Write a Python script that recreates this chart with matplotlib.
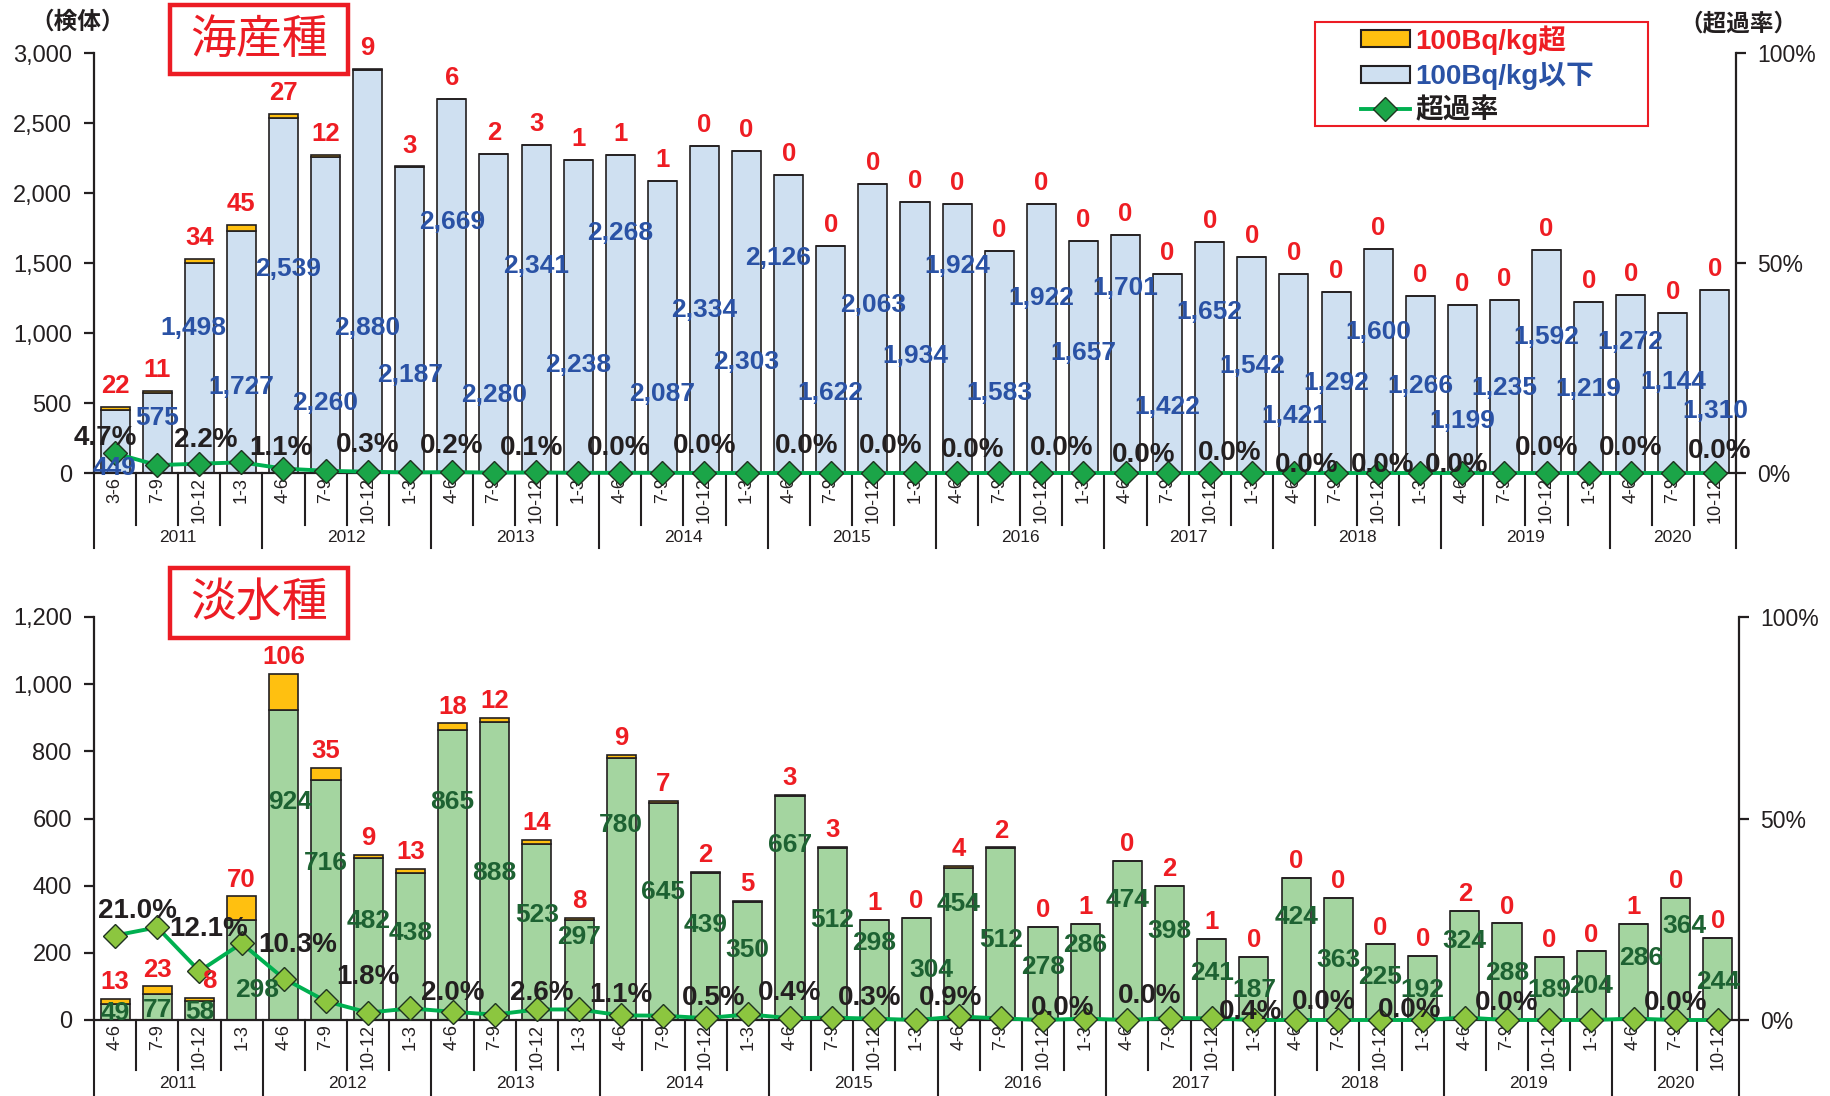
import matplotlib
matplotlib.use("Agg")
import matplotlib.pyplot as plt
from matplotlib.patches import Patch, Rectangle
from matplotlib.lines import Line2D
from matplotlib.ticker import FuncFormatter

plt.rcParams["font.family"] = ["Liberation Sans", "Noto Sans CJK JP"]

# ---- data -------------------------------------------------------------
years = [2011, 2012, 2013, 2014, 2015, 2016, 2017, 2018, 2019, 2020]
sea_quarters = ["3-6", "7-9", "10-12", "1-3"] + ["4-6", "7-9", "10-12", "1-3"] * 8 + ["4-6", "7-9", "10-12"]
fresh_quarters = ["4-6", "7-9", "10-12", "1-3"] * 9 + ["4-6", "7-9", "10-12"]

# 海産種: 100Bq/kg以下 and 100Bq/kg超
sea_below = [449, 575, 1498, 1727, 2539, 2260, 2880, 2187, 2669, 2280, 2341, 2238,
             2268, 2087, 2334, 2303, 2126, 1622, 2063, 1934, 1924, 1583, 1922, 1657,
             1701, 1422, 1652, 1542, 1421, 1292, 1600, 1266, 1199, 1235, 1592, 1219,
             1272, 1144, 1310]
sea_over = [22, 11, 34, 45, 27, 12, 9, 3, 6, 2, 3, 1, 1, 1, 0, 0, 0, 0, 0, 0,
            0, 0, 0, 0, 0, 0, 0, 0, 0, 0, 0, 0, 0, 0, 0, 0, 0, 0, 0]

# 淡水種
fresh_below = [49, 77, 58, 298, 924, 716, 482, 438, 865, 888, 523, 297, 780, 645,
               439, 350, 667, 512, 298, 304, 454, 512, 278, 286, 474, 398, 241, 187,
               424, 363, 225, 192, 324, 288, 189, 204, 286, 364, 244]
fresh_over = [13, 23, 8, 70, 106, 35, 9, 13, 18, 12, 14, 8, 9, 7, 2, 5, 3, 3, 1, 0,
              4, 2, 0, 1, 0, 2, 1, 0, 0, 0, 0, 0, 2, 0, 0, 0, 1, 0, 0]

# ---- label placement (as laid out in the original) ---------------------
sea_num_y = [36, 395, 1033, 617, 1457, 502, 1033, 701, 1790, 555, 1476, 770, 1714,
             562, 1166, 794, 1536, 569, 1201, 833, 1476, 574, 1250, 856, 1320, 474,
             1148, 761, 407, 641, 1010, 622, 371, 610, 969, 603, 933, 651, 443]
sea_num_dx = {2: -0.14, 4: 0.12, 16: -0.24}
sea_over_dx = {}
sea_rate_pos = {0: (-0.22, 251), 2: (0.15, 234), 4: (-0.07, 179), 6: (0, 203),
                8: (0, 191), 10: (-0.1, 179), 12: (-0.05, 179), 14: (0, 191),
                16: (0.43, 191), 18: (0.41, 191), 20: (0.36, 167), 22: (0.49, 179),
                24: (0.44, 132), 26: (0.48, 144), 28: (0.29, 60), 30: (0.1, 60),
                32: (-0.13, 60), 34: (0, 179), 36: (0, 179), 38: (0.1, 155)}

fresh_num_y = [22, 30, 25, 90, 648, 468, 294, 259, 648, 438, 313, 247, 580, 380, 284,
               207, 522, 299, 229, 149, 346, 239, 159, 224, 358, 264, 139, 90, 306,
               179, 129, 90, 234, 139, 90, 100, 184, 279, 114]
fresh_num_dx = {3: 0.37, 4: 0.14, 19: 0.36, 36: 0.17, 37: 0.2}
fresh_over_dx = {2: 0.23}
fresh_rate_pos = {0: (0.53, 326), 2: (0.21, 271), 4: (0.32, 224), 6: (0, 129),
                  8: (0, 80), 10: (0.11, 80), 12: (0, 75), 14: (0.19, 65),
                  16: (0, 80), 18: (-0.1, 65), 20: (-0.2, 65), 22: (0.46, 35),
                  24: (0.53, 70), 26: (0.92, 25), 28: (0.65, 55), 30: (0.69, 30),
                  33: (0, 50), 37: (0, 50)}

BLUE_BAR = "#cfe0f1"
GREEN_BAR = "#a4d5a0"
ORANGE = "#ffc010"
RED = "#ee1d23"
BLUE_TXT = "#2a52a5"
GREEN_TXT = "#1d6232"
INK = "#231f20"
LINE = "#00b050"

W, H = 1831, 1096
fig = plt.figure(figsize=(W / 100, H / 100), dpi=100)


def px_box(left, top, right, bottom):
    return [left / W, 1 - bottom / H, (right - left) / W, (bottom - top) / H]


def draw_panel(box, below, over, quarters, ymax, ystep, bar_color, num_color,
               num_y, num_dx, over_dx, rate_pos, marker_color, over_pad, cat):
    ax = fig.add_axes(px_box(*box))
    ax_h = box[3] - box[1]
    n = len(below)
    x = list(range(n))
    total = [b + o for b, o in zip(below, over)]
    rate = [o / t for o, t in zip(over, total)]

    ax.bar(x, below, width=0.69, color=bar_color, edgecolor=INK, linewidth=1.2, zorder=2)
    ax.bar(x, over, bottom=below, width=0.69, color=ORANGE, edgecolor=INK,
           linewidth=1.2, zorder=2)
    ax.set_xlim(-0.5, n - 0.5)
    ax.set_ylim(0, ymax)
    ax.set_yticks(range(0, ymax + 1, ystep))
    ax.yaxis.set_major_formatter(FuncFormatter(lambda v, p: f"{int(v):,}"))
    ax.set_xticks([])
    ax.tick_params(axis="y", direction="out", length=7, width=1.6, labelsize=17,
                   colors=INK, pad=9)
    for s in ["top", "right"]:
        ax.spines[s].set_visible(False)
    for s in ["left", "bottom"]:
        ax.spines[s].set_linewidth(1.6)
        ax.spines[s].set_color(INK)

    ax2 = ax.twinx()
    ax2.set_ylim(0, 1)
    ax2.set_yticks([0, 0.5, 1])
    ax2.yaxis.set_major_formatter(FuncFormatter(lambda v, p: f"{v * 100:.0f}%"))
    ax2.tick_params(axis="y", direction="out", length=7, width=1.6, labelsize=16.5,
                    colors=INK, pad=8)
    for s in ["top", "left", "bottom"]:
        ax2.spines[s].set_visible(False)
    ax2.spines["right"].set_linewidth(1.6)
    ax2.spines["right"].set_color(INK)
    ax2.plot(x, rate, color=LINE, lw=2.8, marker="D", ms=12, mfc=marker_color,
             mec="#1f3320", mew=1.0, zorder=3, clip_on=False)

    # value labels
    for i in x:
        ax2.text(i + num_dx.get(i, 0), num_y[i], f"{below[i]:,}", transform=ax.transData,
                 ha="center", va="center", fontsize=19, fontweight="bold",
                 color=num_color, zorder=5)
        ax2.annotate(f"{over[i]}", xy=(i + over_dx.get(i, 0), total[i]),
                     xycoords=ax.transData, xytext=(0, over_pad),
                     textcoords="offset points", ha="center", va="baseline",
                     fontsize=18.5, fontweight="bold", color=RED, zorder=5)
    for i, (dx, y) in rate_pos.items():
        ax2.text(i + dx, y, f"{rate[i] * 100:.1f}%", transform=ax.transData,
                 ha="center", va="center", fontsize=20, fontweight="bold",
                 color=INK, zorder=6)

    # two-level category axis
    q_len, y_len, q_gap, y_text = cat
    trans = ax.get_xaxis_transform()
    starts = [i for i, q in enumerate(quarters) if i == 0 or q == "4-6"]
    year_edges = [s - 0.5 for s in starts] + [n - 0.5]
    for i in range(n - 1):
        b = i + 0.5
        if b not in year_edges:
            ax.plot([b, b], [0, -q_len / ax_h], transform=trans, clip_on=False,
                    color=INK, lw=1.5)
    for b in year_edges:
        ax.plot([b, b], [0, -y_len / ax_h], transform=trans, clip_on=False,
                color=INK, lw=1.5)
    for i, q in enumerate(quarters):
        ax.text(i, -q_gap / ax_h, q, rotation=90, ha="center", va="top",
                transform=trans, fontsize=13, color=INK)
    for k, s in enumerate(starts):
        e = (starts[k + 1] if k + 1 < len(starts) else n) - 1
        ax.text((s + e) / 2, -y_text / ax_h, str(years[k]), ha="center", va="center",
                transform=trans, fontsize=12.5, color=INK)
    return ax, ax2


ax_top, ax_top2 = draw_panel((94, 53, 1736, 473), sea_below, sea_over, sea_quarters,
                             3000, 500, BLUE_BAR, BLUE_TXT, sea_num_y, sea_num_dx,
                             sea_over_dx, sea_rate_pos, "#1ba548", 10, (52, 75, 4, 64))
ax_bot, ax_bot2 = draw_panel((94, 617, 1739, 1020), fresh_below, fresh_over,
                             fresh_quarters, 1200, 200, GREEN_BAR, GREEN_TXT,
                             fresh_num_y, fresh_num_dx, fresh_over_dx, fresh_rate_pos,
                             "#8cc63f", 7, (50, 80, 4, 63))

# panel titles in red boxes
for (top, bottom), name in [((5, 74), "海産種"), ((568, 638), "淡水種")]:
    fig.patches.append(Rectangle((170 / W, 1 - bottom / H), 178 / W, (bottom - top) / H,
                                 transform=fig.transFigure, fill=True, facecolor="white",
                                 edgecolor="#ec1c24", lw=3.2, zorder=10))
    fig.text(259 / W, 1 - (top + bottom) / 2 / H, name, ha="center", va="center",
             fontsize=33, color="#ec1c24", family="Noto Sans CJK JP", zorder=11)

fig.text(78 / W, 1 - 22 / H, "（検体）", ha="center", va="center", fontsize=17,
         fontweight="bold", color=INK, family="Noto Sans CJK JP")
fig.text(1738 / W, 1 - 23 / H, "（超過率）", ha="center", va="center", fontsize=17,
         fontweight="bold", color=INK, family="Noto Sans CJK JP")

# legend
fig.patches.append(Rectangle((1315 / W, 1 - 126 / H), 333 / W, 104 / H,
                             transform=fig.transFigure, fill=True, facecolor="white",
                             edgecolor="#ec1c24", lw=1.5, zorder=10))
handles = [Patch(facecolor=ORANGE, edgecolor=INK, lw=1.5),
           Patch(facecolor=BLUE_BAR, edgecolor=INK, lw=1.5),
           Line2D([], [], color=LINE, lw=2.8, marker="D", ms=12, mfc="#1ba548",
                  mec="#1f3320")]
leg = fig.legend(handles, ["100Bq/kg超", "100Bq/kg以下", "超過率"],
                 loc="upper left", bbox_to_anchor=(1361 / W, 1 - 25 / H),
                 frameon=False, borderpad=0, borderaxespad=0, handlelength=1.75,
                 handleheight=0.55, handletextpad=0.2, labelspacing=0.27,
                 labelcolor=[RED, BLUE_TXT, INK],
                 prop=dict(family=["Liberation Sans", "Noto Sans CJK JP"],
                           weight="bold", size=20))
leg.set_zorder(12)

fig.savefig("out.png", dpi=100)
